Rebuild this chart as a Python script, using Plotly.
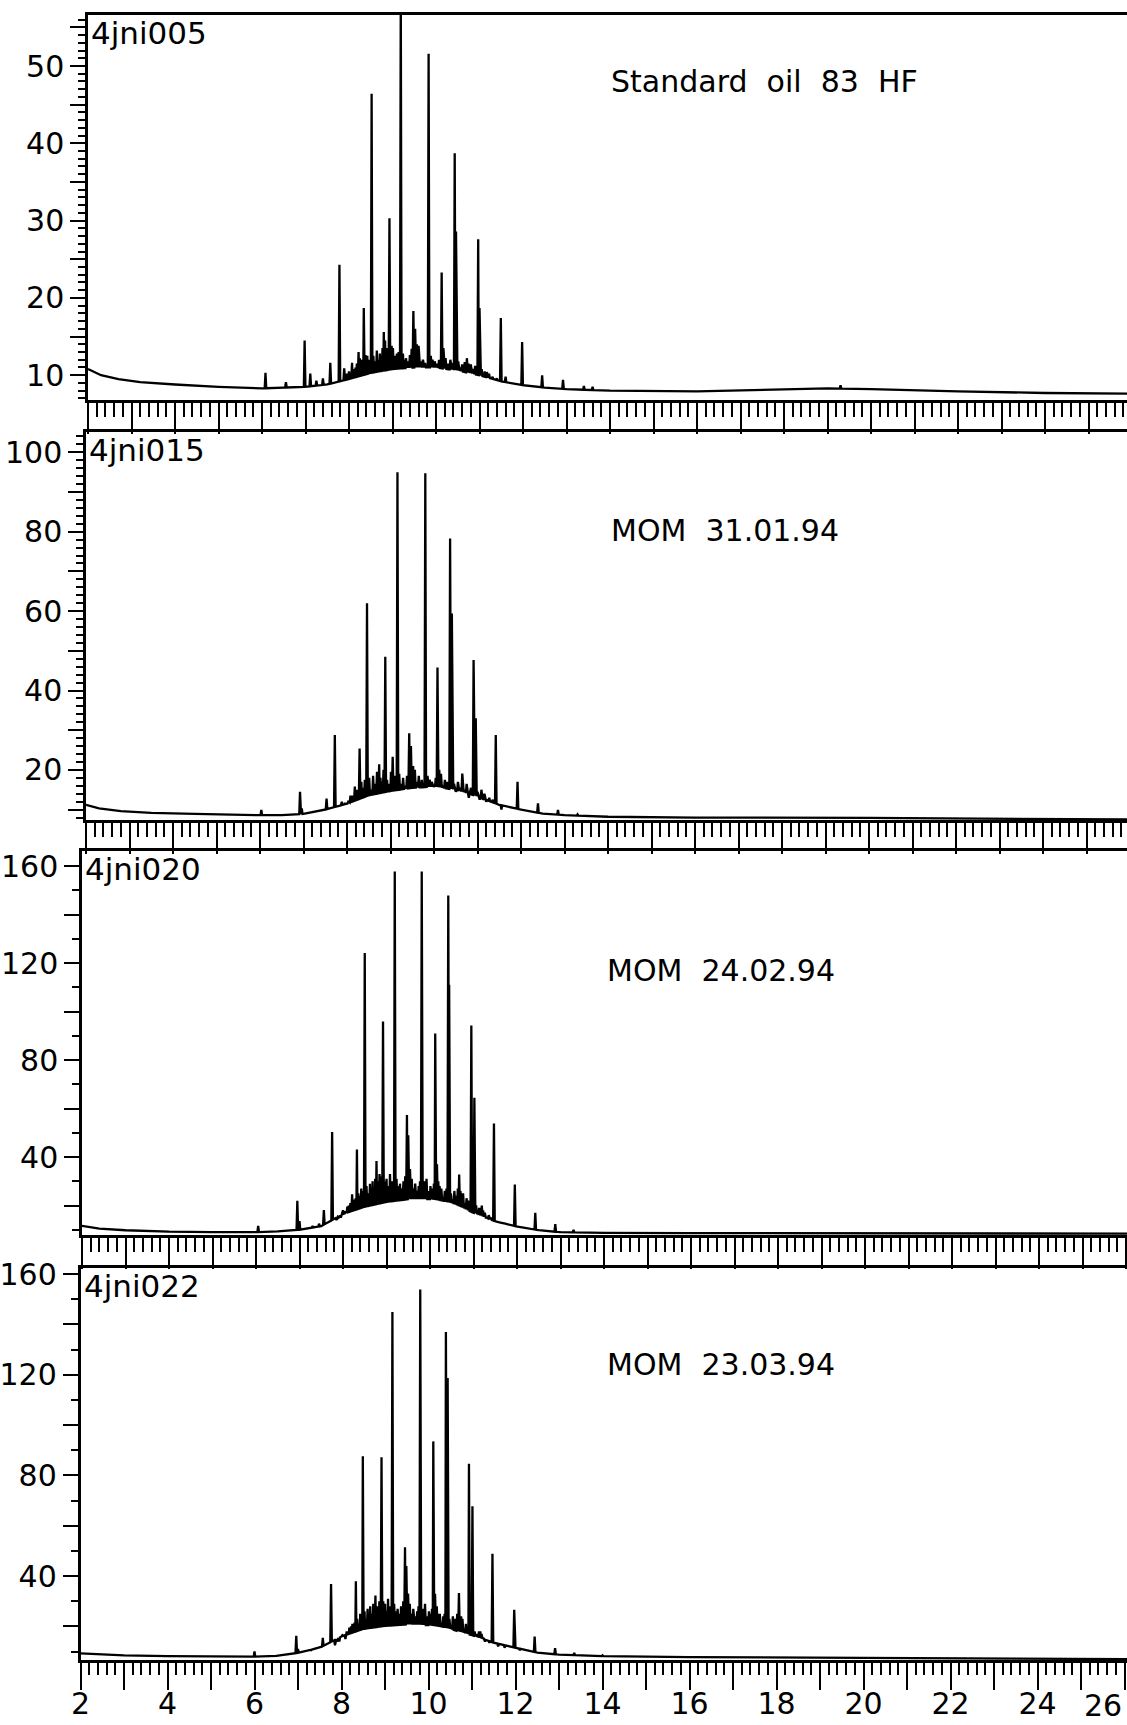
import numpy as np
import plotly.graph_objects as go

# ---------------- data ----------------
x_tick_vals = [2, 4, 6, 8, 10, 12, 14, 16, 18, 20, 22, 24, 26]

# panel 1 : 4jni005  Standard oil 83 HF
p1_base_t = [2.0, 2.3, 2.7, 3.2, 4.0, 5.0, 6.0, 6.5, 7.0, 7.5, 8.0, 8.5, 9.0, 9.5, 10.0,
             10.5, 11.0, 11.5, 12.0, 12.5, 13.0, 14.0, 16.0, 18.0, 19.0, 20.0, 22.0, 24.0, 26.2]
p1_base_v = [10.8, 10.0, 9.5, 9.1, 8.8, 8.5, 8.3, 8.4, 8.5, 8.8, 9.5, 10.3, 10.8, 11.0, 11.0,
             10.6, 10.0, 9.2, 8.7, 8.4, 8.2, 8.0, 7.9, 8.2, 8.3, 8.2, 7.9, 7.7, 7.6]
p1_peak_t = [6.08, 6.55, 6.98, 7.11, 7.25, 7.40, 7.57, 7.78, 7.89, 8.00, 8.07, 8.15, 8.22, 8.28,
             8.34, 8.42, 8.52, 8.60, 8.68, 8.74, 8.80, 8.86, 8.93, 8.98, 9.05, 9.10, 9.19, 9.28,
             9.35, 9.48, 9.52, 9.56, 9.65, 9.83, 9.92, 10.02, 10.13, 10.17, 10.28, 10.43, 10.46,
             10.56, 10.71, 10.75, 10.85, 10.97, 11.00, 11.12, 11.22, 11.49, 11.60, 11.98, 12.44,
             12.92, 13.40, 13.60, 19.3]
p1_peak_v = [10.3, 9.1, 14.5, 10.2, 9.3, 9.6, 11.6, 24.3, 10.9, 10.5, 11.6, 11.0, 13.0, 12.0,
             18.7, 12.5, 46.4, 11.8, 12.0, 12.3, 15.6, 13.5, 30.3, 13.8, 12.5, 12.8, 60.0, 12.0,
             11.8, 18.3, 16.0, 14.0, 11.8, 51.6, 12.0, 11.5, 23.3, 13.5, 11.5, 38.7, 28.6,
             11.0, 12.2, 11.5, 10.8, 27.6, 18.7, 10.5, 10.2, 17.4, 9.8, 14.3, 10.0,
             9.4, 8.6, 8.5, 8.7]
p1_small_t = [7.95, 8.10, 8.18, 8.25, 8.31, 8.38, 8.46, 8.56, 8.64, 8.71, 8.77, 8.83, 8.89,
              9.01, 9.08, 9.14, 9.24, 9.31, 9.40, 9.44, 9.60, 9.70, 9.75, 9.88, 9.97, 10.07,
              10.22, 10.33, 10.38, 10.51, 10.60, 10.66, 10.80, 10.90, 11.05, 11.17, 11.30, 11.40]
p1_small_v = [10.2, 10.8, 11.5, 12.2, 11.8, 12.6, 12.0, 12.5, 13.2, 12.8, 13.5, 14.5, 13.0,
              13.5, 12.4, 13.0, 12.8, 12.2, 12.6, 13.4, 13.8, 12.0, 11.6, 12.5, 11.8, 12.0,
              12.2, 12.0, 11.6, 11.8, 11.4, 11.7, 11.4, 11.2, 10.8, 10.4, 9.8, 9.6]

# panel 2 : 4jni015  MOM 31.01.94
p2_base_t = [2.0, 2.3, 2.8, 3.5, 4.5, 5.5, 6.5, 7.0, 7.5, 8.0, 8.5, 9.0, 9.5, 10.0, 10.5,
             11.0, 11.5, 12.0, 12.5, 13.0, 14.0, 16.0, 20.0, 24.0, 26.2]
p2_base_v = [11.2, 10.3, 9.6, 9.2, 8.9, 8.6, 8.6, 8.9, 10.0, 11.5, 13.6, 14.7, 15.5, 15.8, 15.0,
             13.3, 11.2, 10.0, 9.0, 8.6, 8.2, 8.0, 7.9, 7.7, 7.5]
p2_peak_t = [6.03, 6.92, 6.96, 7.30, 7.53, 7.72, 7.80, 7.95, 8.03, 8.12, 8.18, 8.29, 8.36, 8.46,
             8.55, 8.65, 8.74, 8.80, 8.88, 8.92, 8.98, 9.05, 9.16, 9.25, 9.33, 9.43, 9.47, 9.52,
             9.60, 9.80, 9.90, 10.00, 10.08, 10.12, 10.20, 10.37, 10.41, 10.50, 10.60, 10.65,
             10.70, 10.80, 10.91, 10.96, 11.05, 11.12, 11.20, 11.42, 11.55, 11.92, 12.39, 12.85,
             13.30]
p2_peak_v = [9.9, 14.5, 10.3, 9.5, 12.8, 28.8, 11.0, 11.5, 12.0, 13.5, 15.8, 25.4, 15.5, 62.0,
             15.0, 16.5, 21.4, 17.0, 48.5, 17.5, 16.5, 23.3, 95.0, 16.5, 16.0, 29.2, 26.0, 21.0,
             17.0, 94.7, 17.5, 16.0, 45.8, 20.0, 16.0, 78.3, 59.4, 14.5, 15.5, 19.1,
             15.0, 13.0, 47.7, 33.0, 12.5, 12.5, 12.0, 28.8, 10.0, 17.0, 11.6, 9.9,
             8.8]
p2_small_t = [7.88, 8.08, 8.24, 8.33, 8.41, 8.51, 8.60, 8.69, 8.77, 8.84, 9.01, 9.10, 9.20,
              9.29, 9.38, 9.56, 9.65, 9.72, 9.85, 9.95, 10.04, 10.16, 10.25, 10.31, 10.46,
              10.55, 10.75, 10.85, 11.00, 11.09, 11.16, 11.27, 11.35]
p2_small_v = [12.0, 13.5, 15.0, 17.0, 17.5, 18.0, 18.5, 19.5, 18.0, 20.0, 19.5, 18.5, 19.0,
              18.0, 18.5, 20.0, 18.5, 17.5, 18.5, 17.0, 18.0, 19.0, 17.5, 17.0, 16.5,
              17.0, 16.5, 15.5, 14.5, 15.0, 14.0, 13.0, 12.5]

# panel 3 : 4jni020  MOM 24.02.94
p3_base_t = [2.0, 2.4, 3.0, 4.0, 5.0, 6.0, 6.5, 7.0, 7.5, 8.0, 8.5, 9.0, 9.5, 10.0, 10.5,
             11.0, 11.5, 12.0, 12.5, 13.0, 14.0, 16.0, 20.0, 24.0, 26.2]
p3_base_v = [11.6, 10.5, 9.8, 9.2, 9.0, 9.0, 9.3, 10.0, 11.5, 16.5, 19.5, 21.5, 22.6, 22.6, 21.0,
             17.0, 13.5, 11.3, 9.8, 9.0, 8.7, 8.6, 8.6, 8.5, 8.4]
p3_peak_t = [6.05, 6.95, 7.00, 7.30, 7.45, 7.56, 7.75, 7.85, 7.95, 8.06, 8.13, 8.21, 8.26, 8.32,
             8.38, 8.50, 8.58, 8.65, 8.70, 8.77, 8.84, 8.92, 8.97, 9.05, 9.12, 9.19, 9.28, 9.35,
             9.47, 9.50, 9.54, 9.62, 9.70, 9.81, 9.88, 9.98, 10.05, 10.12, 10.16, 10.22, 10.30,
             10.42, 10.44, 10.52, 10.60, 10.67, 10.72, 10.80, 10.95, 11.02, 11.10, 11.15, 11.22,
             11.30, 11.47, 11.60, 11.75, 11.95, 12.10, 12.42, 12.88, 13.30, 14.00]
p3_peak_v = [11.6, 21.9, 13.6, 11.5, 12.5, 18.1, 50.3, 14.0, 15.0, 17.6, 20.0, 24.6, 21.0, 43.1,
             24.0, 124.1, 25.0, 25.5, 27.0, 38.3, 33.0, 95.9, 30.0, 28.0, 30.0, 157.7, 28.0, 27.0,
             57.3, 49.0, 35.0, 27.0, 26.0, 157.7, 30.0, 26.0, 27.0, 90.9, 37.0, 28.0, 23.0,
             147.8, 111.0, 22.0, 24.0, 32.8, 25.0, 21.0, 94.2, 64.4, 17.0, 19.0, 18.0,
             15.0, 53.8, 13.0, 12.5, 28.7, 11.0, 17.0, 12.3, 10.0, 9.0]
p3_small_t = [7.90, 8.00, 8.10, 8.17, 8.24, 8.29, 8.35, 8.42, 8.46, 8.54, 8.62, 8.68, 8.74,
              8.80, 8.87, 9.00, 9.08, 9.15, 9.23, 9.31, 9.39, 9.43, 9.58, 9.66, 9.74, 9.77,
              9.85, 9.92, 10.01, 10.09, 10.19, 10.26, 10.34, 10.38, 10.48, 10.56, 10.64, 10.70,
              10.76, 10.84, 10.89, 11.06, 11.13, 11.19, 11.26, 11.35, 11.40]
p3_small_v = [15.0, 18.0, 19.5, 21.0, 22.5, 23.0, 25.0, 27.0, 26.0, 28.0, 29.0, 30.0, 31.0,
              30.0, 32.0, 31.0, 33.0, 30.0, 31.0, 29.0, 30.0, 32.0, 31.0, 29.0, 28.0, 30.0,
              29.0, 31.0, 28.0, 29.0, 30.0, 27.0, 26.0, 27.0, 25.0, 26.0, 27.0, 26.0,
              25.0, 23.0, 22.0, 20.0, 19.0, 20.0, 17.0, 16.0, 15.0]

# panel 4 : 4jni022  MOM 23.03.94
p4_base_t = [2.0, 2.5, 3.0, 4.0, 5.0, 6.0, 6.5, 7.0, 7.5, 8.0, 8.5, 9.0, 9.5, 10.0, 10.5,
             11.0, 11.5, 12.0, 12.5, 13.0, 14.0, 16.0, 20.0, 24.0, 26.2]
p4_base_v = [9.3, 8.8, 8.5, 8.2, 8.0, 8.0, 8.3, 9.5, 11.5, 16.0, 19.0, 20.2, 20.8, 20.5, 19.0,
             16.5, 13.5, 11.5, 9.6, 8.8, 8.2, 7.8, 7.5, 7.2, 7.0]
p4_peak_t = [6.00, 6.96, 7.00, 7.30, 7.45, 7.57, 7.76, 7.85, 7.95, 8.09, 8.15, 8.22, 8.28, 8.33,
             8.40, 8.49, 8.56, 8.62, 8.70, 8.78, 8.84, 8.92, 8.96, 9.03, 9.10, 9.17, 9.25, 9.33,
             9.46, 9.49, 9.53, 9.60, 9.70, 9.81, 9.88, 9.98, 10.05, 10.11, 10.15, 10.22, 10.30,
             10.40, 10.44, 10.52, 10.62, 10.70, 10.75, 10.82, 10.93, 11.01, 11.10, 11.16, 11.22,
             11.30, 11.47, 11.60, 11.75, 11.97, 12.10, 12.44, 12.91, 13.35, 14.00]
p4_peak_v = [10.0, 16.3, 11.0, 10.5, 11.5, 15.4, 36.8, 12.5, 14.0, 15.0, 17.0, 20.0, 19.0, 37.9,
             21.0, 87.6, 22.0, 23.0, 25.0, 32.3, 28.0, 87.2, 30.0, 26.0, 28.0, 144.9, 26.0, 25.0,
             51.4, 44.0, 33.0, 25.0, 24.0, 153.8, 27.0, 24.0, 25.0, 93.5, 33.0, 25.0, 21.0,
             137.0, 118.7, 20.0, 23.0, 33.3, 24.0, 19.0, 84.6, 67.7, 17.0, 18.0, 17.0,
             14.0, 48.9, 12.0, 11.5, 26.6, 10.5, 16.0, 11.4, 9.5, 8.5]
p4_small_t = [7.90, 8.02, 8.12, 8.18, 8.25, 8.30, 8.36, 8.43, 8.46, 8.53, 8.60, 8.66, 8.73,
              8.81, 8.87, 9.00, 9.07, 9.13, 9.21, 9.29, 9.37, 9.42, 9.57, 9.65, 9.74, 9.77,
              9.85, 9.92, 10.01, 10.08, 10.19, 10.26, 10.34, 10.37, 10.48, 10.56, 10.66, 10.72,
              10.78, 10.86, 10.90, 11.06, 11.13, 11.19, 11.26, 11.35, 11.40]
p4_small_v = [14.0, 16.5, 18.0, 19.5, 21.0, 21.5, 23.0, 25.0, 24.0, 26.0, 27.0, 28.0, 29.0,
              28.0, 30.0, 29.0, 31.0, 28.0, 29.0, 27.0, 28.0, 30.0, 29.0, 27.0, 26.0, 28.0,
              27.0, 29.0, 26.0, 27.0, 28.0, 25.0, 24.0, 25.0, 23.0, 24.0, 25.0, 24.0,
              23.0, 21.0, 20.0, 18.0, 17.0, 18.0, 15.5, 14.5, 13.5]

run_ids = ["4jni005", "4jni015", "4jni020", "4jni022"]
sample_names = ["Standard oil 83 HF", "MOM 31.01.94", "MOM 24.02.94", "MOM 23.03.94"]

y1_ticks = [10, 20, 30, 40, 50]
y2_ticks = [20, 40, 60, 80, 100]
y3_ticks = [40, 80, 120, 160]
y4_ticks = [40, 80, 120, 160]

# ---------------- layout geometry (pixels in the page) ----------------
W, H = 1127, 1725
PX_PER_MIN = 43.5
panels = [
    dict(left=88, top=15, bottom=400, yref=50, ypx=66.0, ppu=7.73, ticks=y1_ticks, step=5, minor=1),
    dict(left=86, top=432, bottom=820, yref=100, ypx=452.3, ppu=3.97, ticks=y2_ticks, step=10, minor=2),
    dict(left=82, top=851, bottom=1235, yref=160, ypx=866.0, ppu=2.425, ticks=y3_ticks, step=20, minor=10),
    dict(left=80.5, top=1268, bottom=1660, yref=160, ypx=1274.0, ppu=2.517, ticks=y4_ticks, step=20, minor=10),
]
series = [
    (p1_base_t, p1_base_v, p1_peak_t + p1_small_t, p1_peak_v + p1_small_v),
    (p2_base_t, p2_base_v, p2_peak_t + p2_small_t, p2_peak_v + p2_small_v),
    (p3_base_t, p3_base_v, p3_peak_t + p3_small_t, p3_peak_v + p3_small_v),
    (p4_base_t, p4_base_v, p4_peak_t + p4_small_t, p4_peak_v + p4_small_v),
]


def px_x(p):
    return p / W


def px_y(p):
    return 1 - p / H


def build_trace(base_t, base_v, peak_t, peak_v, w=0.018):
    bt = np.asarray(base_t, float)
    bv = np.asarray(base_v, float)
    pt = np.asarray(peak_t, float)
    pv = np.asarray(peak_v, float)
    pts = [(t, v) for t, v in zip(bt, bv) if np.all(np.abs(pt - t) > 1.5 * w)]
    for t, v in zip(pt, pv):
        pts.append((t - w, float(np.interp(t - w, bt, bv))))
        pts.append((t, v))
        pts.append((t + w, float(np.interp(t + w, bt, bv))))
    pts.sort(key=lambda p: (round(p[0], 6), p[1]))
    return [p[0] for p in pts], [p[1] for p in pts]


FONT = "DejaVu Sans, Liberation Sans, Arial"
TICK_FONT = 30
fig = go.Figure()
layout = dict(
    template="none",
    width=W, height=H, margin=dict(l=0, r=0, t=0, b=0, pad=0, autoexpand=False),
    paper_bgcolor="white", plot_bgcolor="white", showlegend=False,
    font=dict(family=FONT, color="black"),
)
annotations = []

for i, (pn, (bt, bv, pt, pv)) in enumerate(zip(panels, series)):
    n = i + 1
    xs, ys = build_trace(bt, bv, pt, pv)
    fig.add_trace(go.Scatter(
        x=xs, y=ys, mode="lines", line=dict(color="black", width=2.3),
        xaxis=f"x{n}", yaxis=f"y{n}", hoverinfo="skip"))

    xr = [2, 2 + (W - pn["left"]) / PX_PER_MIN]
    ytop = pn["yref"] + (pn["ypx"] - pn["top"]) / pn["ppu"]
    ybot = pn["yref"] - (pn["bottom"] - pn["ypx"]) / pn["ppu"]
    ydom = [px_y(pn["bottom"]), px_y(pn["top"])]
    xdom = [px_x(pn["left"]), 1]

    last = (n == 4)
    xa = dict(
        domain=xdom, range=xr, anchor=f"y{n}", automargin=False,
        showline=True, linecolor="black", linewidth=2.5, mirror=True,
        showgrid=False, zeroline=False,
        ticks="outside", tickcolor="black", tickwidth=1.6,
        tickmode="array", tickvals=list(range(2, 27)),
        ticklen=27 if last else 31,
        minor=dict(ticks="outside", tickmode="linear", tick0=2, dtick=0.2,
                   ticklen=12 if last else 14, tickwidth=1.6, tickcolor="black",
                   showgrid=False),
        showticklabels=last,
    )
    if last:
        # the final label (26) sits at the page edge; it is placed as an annotation below
        xa["ticktext"] = [str(v) if (v in x_tick_vals and v != 26) else "" for v in range(2, 27)]
        xa["tickfont"] = dict(family=FONT, size=TICK_FONT, color="black")
        xa["ticklabelstandoff"] = -12
    layout["xaxis" if n == 1 else f"xaxis{n}"] = xa

    maj = [float(v) for v in np.arange(pn["step"], ytop, pn["step"])]
    ya = dict(
        domain=ydom, range=[ybot, ytop], anchor=f"x{n}", automargin=False,
        showline=True, linecolor="black", linewidth=2.5, mirror=False,
        showgrid=False, zeroline=False,
        ticks="outside", tickcolor="black", tickwidth=1.6, ticklen=15,
        tickmode="array", tickvals=maj,
        ticktext=[str(int(v)) if int(v) in pn["ticks"] else "" for v in maj],
        tickfont=dict(family=FONT, size=TICK_FONT, color="black"),
        minor=dict(ticks="outside", tickmode="linear", tick0=0, dtick=pn["minor"],
                   ticklen=7, tickwidth=1.6, tickcolor="black", showgrid=False),
    )
    layout["yaxis" if n == 1 else f"yaxis{n}"] = ya

    annotations.append(dict(
        text=run_ids[i], xref="paper", yref="paper",
        x=px_x(pn["left"] + 1), y=px_y(pn["top"] - 2),
        xanchor="left", yanchor="top", showarrow=False,
        font=dict(family=FONT, size=31, color="black")))

# last x tick label, pulled inside the page edge as in the reference
annotations.append(dict(
    text=str(x_tick_vals[-1]), xref="paper", yref="paper",
    x=px_x(1124), y=px_y(1705), xanchor="right", yanchor="middle", showarrow=False,
    font=dict(family=FONT, size=TICK_FONT, color="black")))

caption_pos = [(609, 81), (609, 530), (605, 970), (605, 1364)]
for name, (cx, cy) in zip(sample_names, caption_pos):
    annotations.append(dict(
        text=name.replace(" ", "\u00a0\u00a0"), xref="paper", yref="paper",
        x=px_x(cx), y=px_y(cy), xanchor="left", yanchor="middle", showarrow=False,
        font=dict(family=FONT, size=30, color="black")))

layout["annotations"] = annotations
fig.update_layout(**layout)

fig.write_html("out.html", include_plotlyjs=True, config={"displayModeBar": False},
               post_script="document.body.style.margin='0px';")
